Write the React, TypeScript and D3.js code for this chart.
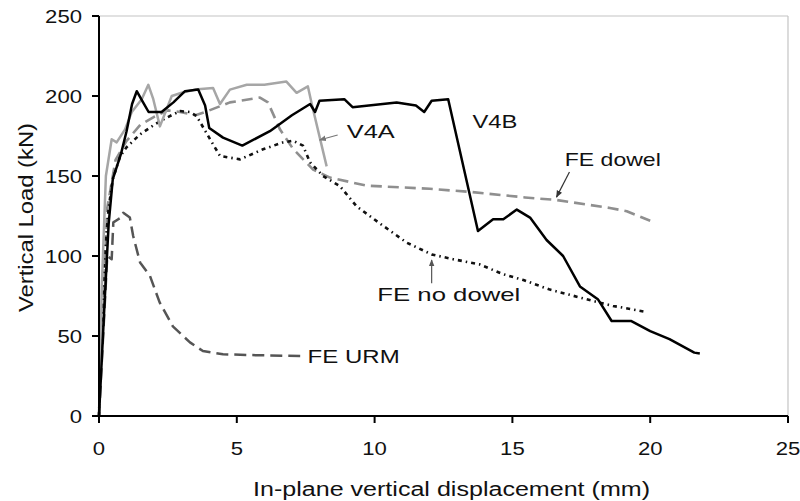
import * as d3 from 'd3';

type Pt = [number, number];

// Load–displacement curves (x: mm, y: kN)
const v4b: Pt[] = [
  [0, 0], [0.2, 70], [0.35, 120], [0.5, 148], [0.8, 164], [1.0, 178], [1.2, 195], [1.37, 203],
  [1.6, 196], [1.8, 190], [2.27, 190], [2.7, 196], [3.12, 203], [3.6, 204], [3.85, 194],
  [4.0, 180], [4.5, 174], [5.2, 169], [6.2, 178], [7.0, 188], [7.66, 195], [7.84, 190],
  [8.0, 197], [8.9, 198], [9.2, 193], [10.8, 196], [11.5, 194], [11.8, 190], [12.07, 197],
  [12.67, 198], [13.75, 115.6], [14.3, 123], [14.67, 123], [15.16, 129], [15.64, 124],
  [16.24, 110], [16.84, 100], [17.45, 81], [18.1, 73], [18.6, 59.4], [19.3, 59.4],
  [20.0, 53], [20.7, 48], [21.6, 39.6], [21.8, 39],
];

const v4a: Pt[] = [
  [0, 0], [0.1, 80], [0.25, 150], [0.46, 173], [0.64, 171], [0.94, 179], [1.19, 190],
  [1.55, 198], [1.79, 207], [1.97, 198], [2.21, 181], [2.64, 200], [3.0, 202], [3.48, 204],
  [4.14, 205], [4.39, 195], [4.75, 204], [5.36, 207], [6.0, 207], [6.8, 209], [7.17, 202],
  [7.58, 206], [7.72, 195], [8.26, 156],
];

const feDowel: Pt[] = [
  [0, 0], [0.3, 130], [0.6, 160], [1.0, 172], [1.5, 182], [2.0, 187], [2.5, 191],
  [2.94, 190], [3.5, 188], [3.85, 190], [4.75, 196], [5.84, 199], [6.13, 196], [6.57, 179],
  [7.04, 167], [7.77, 154], [8.38, 149], [9.7, 144], [12.0, 142], [13.5, 140], [15.46, 136.6],
  [16.6, 135], [18.54, 130], [19.15, 128], [20.0, 122],
];

const feNoDowel: Pt[] = [
  [0, 0], [0.1, 60], [0.2, 100], [0.35, 130], [0.5, 148], [0.76, 162], [1.0, 168],
  [1.49, 176], [2.0, 182], [2.46, 186.5], [2.94, 190.6], [3.3, 190], [3.54, 187.5],
  [4.03, 173], [4.39, 162.5], [5.12, 160.4], [5.95, 166.7], [6.68, 171], [7.04, 172],
  [7.4, 169], [7.66, 158.5], [8.13, 150], [8.74, 143.7], [9.35, 131], [10.3, 119],
  [11.16, 108.4], [12.07, 101], [12.85, 98], [13.8, 94.8], [14.67, 88.6], [15.4, 85],
  [16.36, 79], [17.9, 72], [18.65, 68.8], [19.87, 65],
];

const feUrm: Pt[] = [
  [0, 0], [0.15, 50], [0.3, 100], [0.46, 98], [0.52, 121], [0.7, 123], [0.8, 124],
  [0.88, 127], [1.12, 124], [1.24, 112.5], [1.49, 96], [1.85, 87.5], [2.2, 71], [2.68, 56],
  [3.3, 46], [3.77, 40.6], [4.5, 38.6], [5.7, 38], [7.3, 37.5],
];

const xTicks = [0, 5, 10, 15, 20, 25];
const yTicks = [0, 50, 100, 150, 200, 250];

const W = 800;
const H = 501;
const left = 99;
const right = 788;
const top = 16;
const bottom = 416;

const font = '"Liberation Sans", Arial, sans-serif';
const digitW = 12.3;

export default function App() {
  const x = d3.scaleLinear().domain([0, 25]).range([left, right]);
  const y = d3.scaleLinear().domain([0, 250]).range([bottom, top]);
  const line = d3.line<Pt>().x(d => x(d[0])).y(d => y(d[1]));

  const series = [
    { data: feUrm, color: '#555555', dash: '12,6', width: 2.5 },
    { data: feDowel, color: '#8f8f8f', dash: '11,6', width: 2.6 },
    { data: feNoDowel, color: '#111111', dash: '4,4,1.5,4', width: 2.6 },
    { data: v4a, color: '#a6a6a6', dash: undefined, width: 2.5 },
    { data: v4b, color: '#000000', dash: undefined, width: 2.5 },
  ];

  const labels = [
    { text: 'V4A', x: 8.99, y: 173.75, w: 48 },
    { text: 'V4B', x: 13.55, y: 180, w: 45 },
    { text: 'FE dowel', x: 16.9, y: 156, w: 96 },
    { text: 'FE no dowel', x: 10.1, y: 71.9, w: 143 },
    { text: 'FE URM', x: 7.57, y: 33, w: 92 },
  ];

  const arrows = [
    { from: [8.66, 175.6], to: [8.0, 172.5], color: '#777' },
    { from: [17.07, 152.5], to: [16.6, 136.8], color: '#333' },
    { from: [12.07, 83], to: [12.07, 97.5], color: '#555' },
  ];

  return (
    <svg width={W} height={H} style={{ position: 'absolute', left: 0, top: 0 }}>
      <defs>
        {arrows.map((a, i) => (
          <marker key={i} id={`ah${i}`} viewBox="0 0 10 10" refX="9" refY="5"
            markerWidth="6" markerHeight="6" orient="auto">
            <path d="M0,1 L10,5 L0,9 Z" fill={a.color} />
          </marker>
        ))}
      </defs>
      <rect width={W} height={H} fill="#fff" />

      {/* light frame top / right */}
      <line x1={left} x2={right} y1={top} y2={top} stroke="#c4c4c4" strokeWidth={1.2} />
      <line x1={right} x2={right} y1={top} y2={bottom} stroke="#c4c4c4" strokeWidth={1.2} />

      {series.map((s, i) => (
        <path key={i} d={line(s.data) ?? ''} fill="none" stroke={s.color}
          strokeWidth={s.width} strokeDasharray={s.dash} strokeLinejoin="round" />
      ))}

      {arrows.map((a, i) => (
        <line key={i} x1={x(a.from[0])} y1={y(a.from[1])} x2={x(a.to[0])} y2={y(a.to[1])}
          stroke={a.color} strokeWidth={1.2} markerEnd={`url(#ah${i})`} />
      ))}

      {labels.map(l => (
        <text key={l.text} x={x(l.x)} y={y(l.y)} fontFamily={font} fontSize={19}
          fill="#111" textLength={l.w} lengthAdjust="spacingAndGlyphs">{l.text}</text>
      ))}

      {/* axes */}
      <line x1={left} x2={left} y1={top} y2={bottom} stroke="#000" strokeWidth={2} />
      <line x1={left} x2={right} y1={bottom} y2={bottom} stroke="#000" strokeWidth={2} />
      {yTicks.map(t => (
        <g key={t}>
          <line x1={left - 7} x2={left} y1={y(t)} y2={y(t)} stroke="#000" strokeWidth={2} />
          <text x={82} y={y(t) + 7} textAnchor="end" fontFamily={font} fontSize={19}
            fill="#111" textLength={String(t).length * digitW}
            lengthAdjust="spacingAndGlyphs">{t}</text>
        </g>
      ))}
      {xTicks.map(t => (
        <g key={t}>
          <line x1={x(t)} x2={x(t)} y1={bottom} y2={bottom + 7} stroke="#000" strokeWidth={2} />
          <text x={x(t)} y={455} textAnchor="middle" fontFamily={font} fontSize={19}
            fill="#111" textLength={String(t).length * digitW}
            lengthAdjust="spacingAndGlyphs">{t}</text>
        </g>
      ))}

      <text x={451.5} y={496} textAnchor="middle" fontFamily={font} fontSize={19.5}
        fill="#111" textLength={397} lengthAdjust="spacingAndGlyphs">
        In-plane vertical displacement (mm)
      </text>
      <text transform={`translate(33,217.5) rotate(-90)`} textAnchor="middle"
        fontFamily={font} fontSize={19.5} fill="#111" textLength={189}
        lengthAdjust="spacingAndGlyphs">Vertical Load (kN)</text>
    </svg>
  );
}
